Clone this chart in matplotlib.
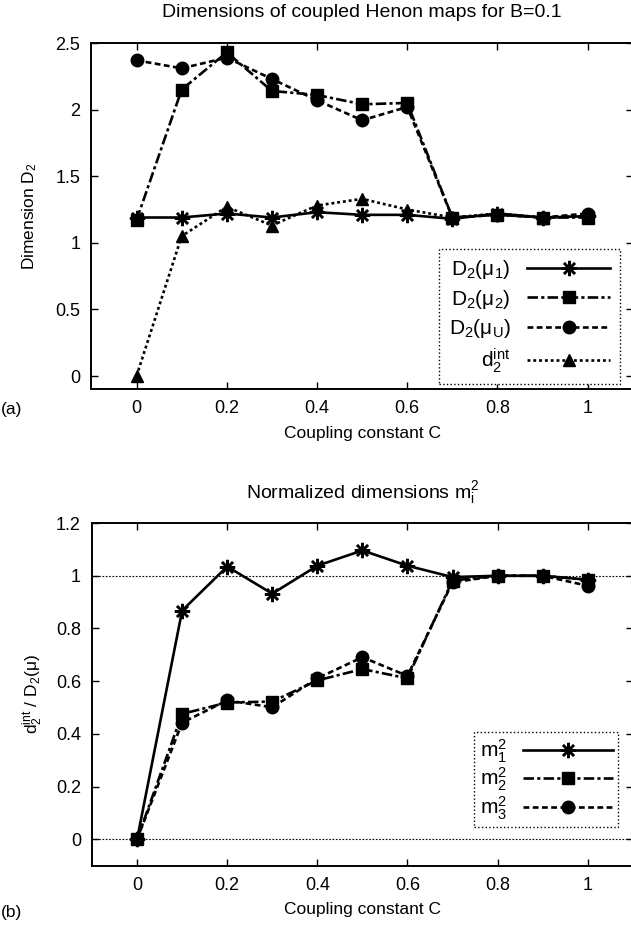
import numpy as np
import matplotlib
matplotlib.use('Agg')
import matplotlib.pyplot as plt

plt.rcParams['font.family'] = 'Liberation Sans'
plt.rcParams['mathtext.fontset'] = 'custom'
plt.rcParams['mathtext.rm'] = 'Liberation Sans'
plt.rcParams['mathtext.it'] = 'Liberation Sans:italic'

# coupling constant values
C = [0.0, 0.1, 0.2, 0.3, 0.4, 0.5, 0.6, 0.7, 0.8, 0.9, 1.0]

# panel (a): dimensions
D2_mu1 = [1.19, 1.19, 1.22, 1.19, 1.23, 1.21, 1.21, 1.18, 1.22, 1.19, 1.20]
D2_mu2 = [1.17, 2.15, 2.43, 2.14, 2.11, 2.04, 2.05, 1.19, 1.21, 1.19, 1.19]
D2_muU = [2.37, 2.31, 2.39, 2.23, 2.07, 1.92, 2.02, 1.19, 1.21, 1.19, 1.22]
d2_int = [0.00, 1.05, 1.27, 1.13, 1.28, 1.33, 1.25, 1.19, 1.22, 1.19, 1.20]

# panel (b): normalized dimensions
m1 = [0.0, 0.868, 1.035, 0.932, 1.038, 1.096, 1.038, 0.995, 1.0, 1.0, 0.985]
m2 = [0.0, 0.476, 0.519, 0.523, 0.603, 0.646, 0.611, 0.982, 1.0, 1.0, 0.985]
m3 = [0.0, 0.443, 0.527, 0.501, 0.611, 0.691, 0.620, 0.975, 1.0, 1.0, 0.962]

xticks = [0, 0.2, 0.4, 0.6, 0.8, 1]
xticklabels = ['0', '0.2', '0.4', '0.6', '0.8', '1']

star = (8, 2, 0)
dashdot = (0, (4, 1.2, 1.2, 1.2))
dashed = (0, (2.2, 1.3))
dotted = (0, (1.1, 1.1))

fig = plt.figure(figsize=(6.31, 9.31), dpi=100)
ax1 = fig.add_axes([0.1449, 0.5818, 0.858, 0.372])
ax2 = fig.add_axes([0.1458, 0.0701, 0.857, 0.3681])


def style_axes(ax):
    ax.tick_params(direction='in', top=True, right=True, length=5, width=1,
                   labelsize=13, pad=8)
    for s in ax.spines.values():
        s.set_linewidth(1.4)
    ax.set_xlim(-0.1, 1.1)
    ax.set_xticks(xticks)
    ax.set_xticklabels(xticklabels)
    ax.set_xlabel('Coupling constant C', fontsize=12.5, labelpad=6)


lw = 1.9
ax1.plot(C, D2_mu1, color='black', lw=lw, ls='-', marker=star, ms=11, mew=1.8,
         label='D$_2$(μ$_1$)', zorder=4)
ax1.plot(C, D2_mu2, color='black', lw=lw, ls=dashdot, marker='s', ms=9,
         label='D$_2$(μ$_2$)', zorder=3)
ax1.plot(C, D2_muU, color='black', lw=lw, ls=dashed, marker='o', ms=9,
         label='D$_2$(μ$_\\mathrm{U}$)', zorder=2)
ax1.plot(C, d2_int, color='black', lw=lw, ls=dotted, marker='^', ms=9,
         label='d$_2^{\\mathrm{int}}$', zorder=2)
ax1.set_ylim(-0.1, 2.5)
ax1.set_yticks([0, 0.5, 1, 1.5, 2, 2.5])
ax1.set_yticklabels(['0', '0.5', '1', '1.5', '2', '2.5'])
ax1.set_ylabel('Dimension D$_2$', fontsize=12.5, labelpad=12)
ax1.set_title('Dimensions of coupled Henon maps for B=0.1', fontsize=14, pad=19)
style_axes(ax1)
leg1 = ax1.legend(loc='lower right', bbox_to_anchor=(0.976, 0.0145), borderaxespad=0,
                  markerfirst=False, fancybox=False, edgecolor='black', fontsize=15,
                  numpoints=1, handlelength=4.0, labelspacing=0.3, borderpad=0.45,
                  framealpha=1)
leg1.get_frame().set_linestyle(':')
leg1.get_frame().set_linewidth(1.0)

ax2.axhline(0, color='black', lw=0.8, ls=(0, (1.5, 1.5)), zorder=1)
ax2.axhline(1, color='black', lw=0.8, ls=(0, (1.5, 1.5)), zorder=1)
ax2.plot(C, m1, color='black', lw=lw, ls='-', marker=star, ms=11, mew=1.8,
         label='m$^2_1$', zorder=4)
ax2.plot(C, m2, color='black', lw=lw, ls=dashdot, marker='s', ms=9,
         label='m$^2_2$', zorder=3)
ax2.plot(C, m3, color='black', lw=lw, ls=dashed, marker='o', ms=9,
         label='m$^2_3$', zorder=2)
ax2.set_ylim(-0.1, 1.2)
ax2.set_yticks([0, 0.2, 0.4, 0.6, 0.8, 1, 1.2])
ax2.set_yticklabels(['0', '0.2', '0.4', '0.6', '0.8', '1', '1.2'])
ax2.set_ylabel('d$_2^{\\mathrm{int}}$ / D$_2$(μ)', fontsize=12.5, labelpad=8)
ax2.set_title('Normalized dimensions m$^2_\\mathrm{i}$', fontsize=14, pad=18)
style_axes(ax2)
leg2 = ax2.legend(loc='lower right', bbox_to_anchor=(0.973, 0.113), borderaxespad=0,
                  markerfirst=False, fancybox=False, edgecolor='black', fontsize=15,
                  numpoints=1, handlelength=4.3, labelspacing=0.05, borderpad=0.25,
                  framealpha=1)
leg2.get_frame().set_linestyle(':')
leg2.get_frame().set_linewidth(1.0)

fig.text(0.002, 1 - 410 / 931, '(a)', fontsize=12.5, va='center', ha='left')
fig.text(0.002, 1 - 913 / 931, '(b)', fontsize=12.5, va='center', ha='left')

fig.savefig('out.png', dpi=100, facecolor='white')
